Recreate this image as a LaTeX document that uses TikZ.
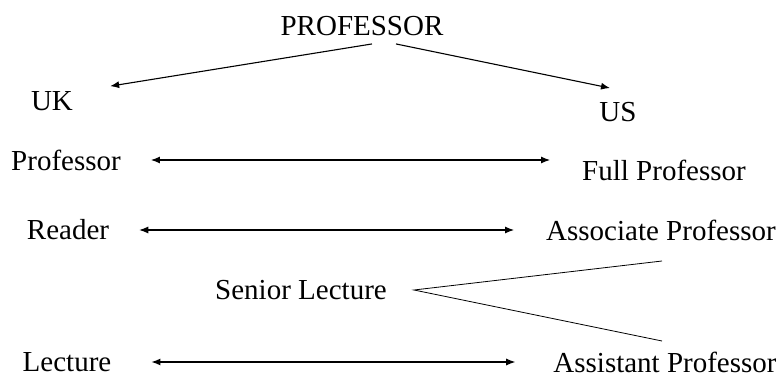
\documentclass[tikz,border=0pt]{standalone}
\usepackage{fontspec}
\setmainfont{Liberation Serif}
\usetikzlibrary{arrows.meta}
\tikzset{
    rank/.style={inner sep=0pt, font=\fontsize{29}{31}\selectfont},
    link/.style={line width=1.1pt},
    pair/.style={link, <->, shorten <=30pt, shorten >=32pt}
}
\begin{document}
\begin{tikzpicture}[>={Latex[length=9pt,width=7pt]}, x=1pt, y=-1pt]
\useasboundingbox (0,0) rectangle (776,379);
% top
\node[rank] (top) at (362,26) {PROFESSOR};
\node[rank] (uk) at (52,101) {UK};
\node[rank] (us) at (618,112) {US};
% titles
\node[rank] (ukprof) at (66,160) {Professor};
\node[rank] (usfull) at (664,170) {Full Professor};
\node[rank] (reader) at (68,230) {Reader};
\node[rank] (usassoc) at (661,230) {Associate Professor};
\node[rank] (senior) at (301,290) {Senior Lecture};
\node[rank] (lecture) at (67,362) {Lecture};
\node[rank] (usassist) at (665,362) {Assistant Professor};
\coordinate (upper) at (662,261);
\coordinate (lower) at (662,341);
% arrows
\draw[link,->] ([xshift=10pt,yshift=-8pt]top.south) -- ([xshift=37pt,yshift=5pt]uk.north east);
\draw[link,->] ([xshift=34pt,yshift=-8pt]top.south) -- ([xshift=-8pt,yshift=14pt]us.north);
\draw[pair] (ukprof.east) -- (ukprof.east -| usfull.west);
\draw[pair] (reader.east) -- (reader.east -| usassoc.west);
\draw[pair, shorten <=40pt, shorten >=38pt] (lecture.east) -- (lecture.east -| usassist.west);
\draw[line width=0.8pt] (upper) -- ([xshift=27pt]senior.east) -- (lower);
\end{tikzpicture}
\end{document}
